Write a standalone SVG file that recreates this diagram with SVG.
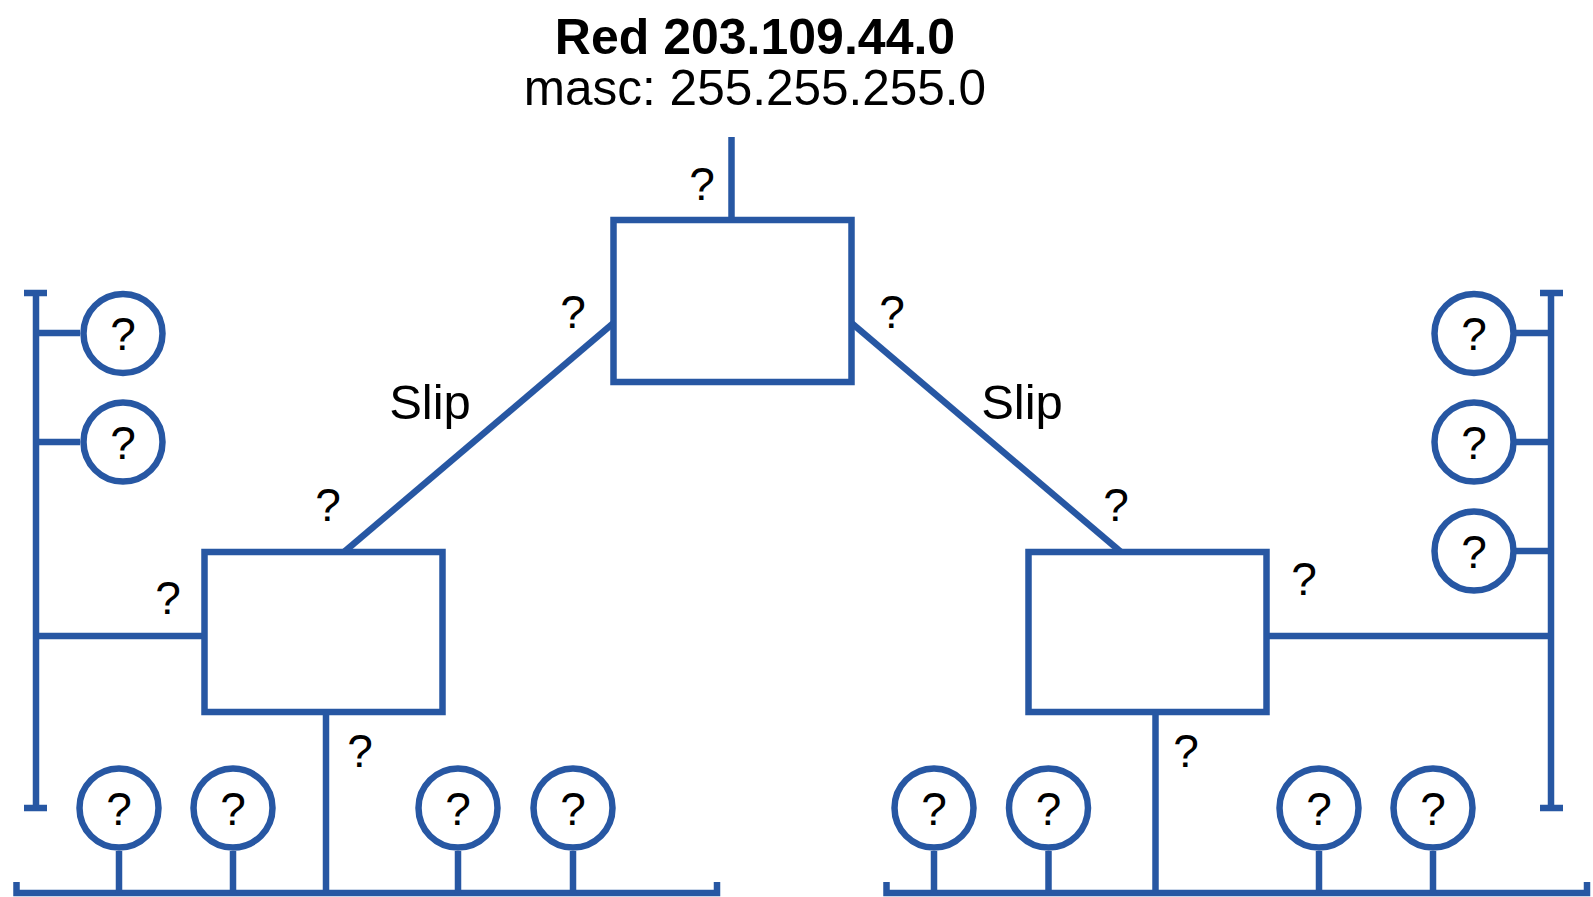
<svg xmlns="http://www.w3.org/2000/svg" width="1593" height="897" viewBox="0 0 1593 897">
<style>
.ln{stroke:#2757a3;stroke-width:6.5;fill:none;stroke-linecap:butt}
.box{stroke:#2757a3;stroke-width:6.5;fill:#fff}
.host{stroke:#2757a3;stroke-width:6.5;fill:#fff}
.t{font-family:"Liberation Sans",Arial,sans-serif;fill:#000;text-anchor:middle}
.q{font-size:46px}
.s{font-size:49px}
</style>
<rect width="1593" height="897" fill="#fff"/>
<text class="t" x="755" y="54" style="font-size:50px;font-weight:bold">Red 203.109.44.0</text>
<text class="t" x="755" y="105" style="font-size:49.5px">masc: 255.255.255.0</text>
<g id="connectors">
<line class="ln" x1="731.5" y1="137" x2="731.5" y2="220"/>
<line class="ln" x1="613.5" y1="323" x2="344" y2="552"/>
<line class="ln" x1="851.5" y1="323" x2="1121" y2="552"/>
<path class="ln" d="M24 293H47M36 293V808M24 808H47"/>
<line class="ln" x1="36" y1="333" x2="80" y2="333"/>
<line class="ln" x1="36" y1="442" x2="80" y2="442"/>
<line class="ln" x1="36" y1="636" x2="204" y2="636"/>
<path class="ln" d="M1540 293H1563M1551 293V808M1540 808H1563"/>
<line class="ln" x1="1516" y1="333" x2="1551" y2="333"/>
<line class="ln" x1="1516" y1="442" x2="1551" y2="442"/>
<line class="ln" x1="1516" y1="551" x2="1551" y2="551"/>
<line class="ln" x1="1266.5" y1="636" x2="1551" y2="636"/>
<path class="ln" d="M16.5 882V893H717V882"/>
<path class="ln" d="M886.5 882V893H1587V882"/>
<line class="ln" x1="326" y1="712" x2="326" y2="893"/>
<line class="ln" x1="1155.5" y1="712" x2="1155.5" y2="893"/>
<line class="ln" x1="119" y1="851" x2="119" y2="893"/>
<line class="ln" x1="233" y1="851" x2="233" y2="893"/>
<line class="ln" x1="458" y1="851" x2="458" y2="893"/>
<line class="ln" x1="573" y1="851" x2="573" y2="893"/>
<line class="ln" x1="934" y1="851" x2="934" y2="893"/>
<line class="ln" x1="1048.5" y1="851" x2="1048.5" y2="893"/>
<line class="ln" x1="1319" y1="851" x2="1319" y2="893"/>
<line class="ln" x1="1433" y1="851" x2="1433" y2="893"/>
</g>
<g id="router-top"><rect class="box" x="613.5" y="220" width="238" height="162"/></g>
<g id="router-left"><rect class="box" x="204.5" y="552" width="238" height="160"/></g>
<g id="router-right"><rect class="box" x="1028.5" y="552" width="238" height="160"/></g>
<g id="labels">
<text class="t q" x="702" y="200">?</text>
<text class="t q" x="573" y="328">?</text>
<text class="t q" x="892" y="328">?</text>
<text class="t q" x="328" y="521">?</text>
<text class="t q" x="1116" y="521">?</text>
<text class="t q" x="168" y="614">?</text>
<text class="t q" x="1304" y="595">?</text>
<text class="t q" x="360" y="767">?</text>
<text class="t q" x="1186" y="767">?</text>
<text class="t s" x="430" y="419">Slip</text>
<text class="t s" x="1022" y="419">Slip</text>
</g>
<g id="host-l1"><circle class="host" cx="123" cy="333.5" r="39.5"/><text class="t q" x="123" y="350">?</text></g>
<g id="host-l2"><circle class="host" cx="123" cy="442" r="39.5"/><text class="t q" x="123" y="458.5">?</text></g>
<g id="host-r1"><circle class="host" cx="1474" cy="333.5" r="39.5"/><text class="t q" x="1474" y="350">?</text></g>
<g id="host-r2"><circle class="host" cx="1474" cy="442" r="39.5"/><text class="t q" x="1474" y="458.5">?</text></g>
<g id="host-r3"><circle class="host" cx="1474" cy="551" r="39.5"/><text class="t q" x="1474" y="567.5">?</text></g>
<g id="host-b1"><circle class="host" cx="119" cy="808" r="39.5"/><text class="t q" x="119" y="824.5">?</text></g>
<g id="host-b2"><circle class="host" cx="233" cy="808" r="39.5"/><text class="t q" x="233" y="824.5">?</text></g>
<g id="host-b3"><circle class="host" cx="458" cy="808" r="39.5"/><text class="t q" x="458" y="824.5">?</text></g>
<g id="host-b4"><circle class="host" cx="573" cy="808" r="39.5"/><text class="t q" x="573" y="824.5">?</text></g>
<g id="host-b5"><circle class="host" cx="934" cy="808" r="39.5"/><text class="t q" x="934" y="824.5">?</text></g>
<g id="host-b6"><circle class="host" cx="1048.5" cy="808" r="39.5"/><text class="t q" x="1048.5" y="824.5">?</text></g>
<g id="host-b7"><circle class="host" cx="1319" cy="808" r="39.5"/><text class="t q" x="1319" y="824.5">?</text></g>
<g id="host-b8"><circle class="host" cx="1433" cy="808" r="39.5"/><text class="t q" x="1433" y="824.5">?</text></g>
</svg>
